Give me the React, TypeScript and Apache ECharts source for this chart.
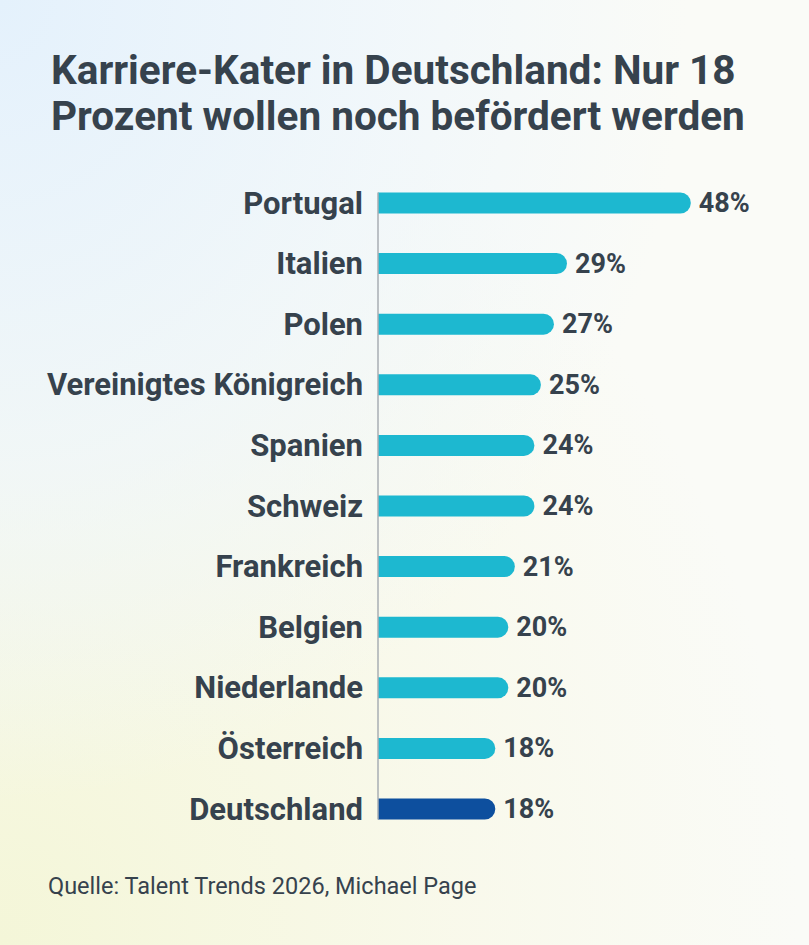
import React, { useEffect, useRef } from "react";
import * as echarts from "echarts";

const titleText = "Karriere-Kater in Deutschland: Nur 18\nProzent wollen noch befördert werden";
const sourceText = "Quelle: Talent Trends 2026, Michael Page";
const countries = [
  "Portugal",
  "Italien",
  "Polen",
  "Vereinigtes Königreich",
  "Spanien",
  "Schweiz",
  "Frankreich",
  "Belgien",
  "Niederlande",
  "Österreich",
  "Deutschland",
];
const shares = [48, 29, 27, 25, 24, 24, 21, 20, 20, 18, 18];
const highlight = "Deutschland";

const TEXT = "#36424d";
const BAR = "#1db8d0";
const BAR_HL = "#0d4f9e";
const BAR_W = 21;

export default function App() {
  const ref = useRef<HTMLDivElement>(null);
  useEffect(() => {
    document.body.style.margin = "0";
    const chart = echarts.init(ref.current!, null, { renderer: "svg" });
    const source = {
      type: "text",
      left: 48,
      top: 874,
      style: {
        text: sourceText,
        fontFamily: "Roboto",
        fontSize: 23.5,
        fill: TEXT,
      },
    };
    chart.setOption({
      animation: false,
      backgroundColor: "transparent",
      title: {
        text: titleText,
        left: 46,
        top: 42,
        textStyle: {
          fontFamily: "Roboto",
          fontWeight: "bold",
          fontSize: 40.5,
          lineHeight: 46,
          color: TEXT,
        },
      },
      graphic: [source],
      grid: { left: 378, right: 40, top: 203, bottom: 136, containLabel: false },
      xAxis: {
        type: "value",
        min: 0,
        max: 60,
        show: false,
      },
      yAxis: {
        type: "category",
        data: countries,
        inverse: true,
        boundaryGap: false,
        axisLine: { show: false },
        axisTick: { show: false },
        splitLine: { show: false },
        axisLabel: {
          margin: 15,
          fontFamily: "Roboto",
          fontWeight: "bold",
          fontSize: 31,
          color: TEXT,
        },
      },
      series: [
        {
          type: "bar",
          barWidth: BAR_W,
          data: shares.map((v, i) => ({
            value: v,
            itemStyle: {
              color: countries[i] === highlight ? BAR_HL : BAR,
              borderRadius: [0, 11, 11, 0],
            },
          })),
          label: {
            show: true,
            position: "right",
            distance: 8,
            formatter: "{c}%",
            fontFamily: "Roboto",
            fontWeight: "bold",
            fontSize: 27,
            color: TEXT,
          },
        },
      ],
    });
    const top = chart.convertToPixel({ gridIndex: 0 }, [0, countries[0]]);
    const bot = chart.convertToPixel({ gridIndex: 0 }, [0, countries[countries.length - 1]]);
    chart.setOption({
      graphic: [
        source,
        {
          type: "line",
          z: 10,
          shape: { x1: top[0], y1: top[1] - BAR_W / 2, x2: bot[0], y2: bot[1] + BAR_W / 2 },
          style: { stroke: "#a9aeb3", lineWidth: 1.5 },
        },
      ],
    });
    return () => chart.dispose();
  }, []);
  return (
    <div
      ref={ref}
      style={{
        width: 809,
        height: 945,
        background:
          "radial-gradient(ellipse at 0% 0%, #e4f1fc 0%, rgba(238,246,252,0.7) 35%, rgba(255,255,255,0) 60%), radial-gradient(ellipse at 0% 100%, #f4f6d8 0%, rgba(248,248,230,0.7) 40%, rgba(255,255,255,0) 70%), #fafbf7",
      }}
    />
  );
}
